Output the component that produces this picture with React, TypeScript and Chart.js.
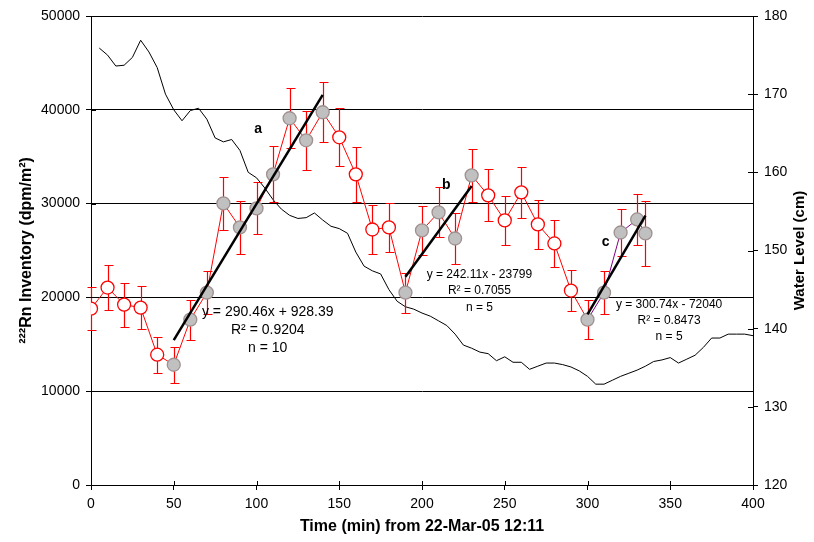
import React, { useEffect, useRef } from 'react';
import { Chart, registerables } from 'chart.js';

Chart.register(...registerables);

// ---------- data ----------
const rnTimes = [0, 10, 20, 30, 40, 50, 60, 70, 80, 90, 100, 110, 120, 130, 140, 150, 160, 170, 180, 190, 200, 210, 220, 230, 240, 250, 260, 270, 280, 290, 300, 310, 320, 330, 335];
const rnInventory = [18800, 21050, 19230, 18910, 13890, 12820, 17630, 20510, 30020, 27460, 29490, 33120, 39100, 36750, 39740, 37070, 33120, 27240, 27460, 20510, 27140, 29060, 26280, 33010, 30880, 28210, 31200, 27780, 25750, 20730, 17630, 20510, 26920, 28310, 26820];
const rnError = [2260, 2440, 2350, 2300, 1900, 1900, 2140, 2300, 2850, 2800, 2780, 3000, 3200, 3150, 3200, 3100, 2950, 2600, 2600, 2140, 2580, 2670, 2670, 2850, 2760, 2580, 2720, 2580, 2530, 2200, 2050, 2300, 2530, 2700, 3500];

// regression windows (points used in fits are drawn grey)
const fitStart = [50, 190, 300];
const fitEnd = [140, 230, 335];

// trend line end points
const trendAX = [50, 140];
const trendAY = [15451, 41593];
const trendBX = [190, 230];
const trendBY = [22202, 31886];
const trendCX = [300, 335];
const trendCY = [18182, 28708];

const waterTimes = [5, 10, 15, 20, 25, 30, 35, 40, 45, 50, 55, 60, 65, 70, 75, 80, 85, 90, 95, 100, 105, 110, 115, 120, 125, 130, 135, 140, 145, 150, 155, 160, 165, 170, 175, 180, 185, 190, 195, 200, 205, 210, 215, 220, 225, 230, 235, 240, 245, 250, 255, 260, 265, 270, 275, 280, 285, 290, 295, 300, 305, 310, 315, 320, 325, 330, 335, 340, 345, 350, 355, 360, 365, 370, 375, 380, 385, 390, 395, 400];
const waterLevel = [175.9, 175.0, 173.6, 173.7, 174.7, 176.9, 175.4, 173.4, 170.0, 168.0, 166.6, 167.9, 168.2, 166.8, 164.4, 163.9, 164.2, 162.8, 160.0, 159.3, 158.0, 156.5, 155.3, 154.5, 154.1, 154.2, 154.8, 153.9, 153.1, 152.8, 152.2, 149.8, 148.0, 147.4, 147.0, 145.0, 143.5, 142.8, 142.5, 142.0, 141.6, 141.0, 140.4, 139.3, 137.9, 137.5, 137.0, 136.8, 135.9, 136.4, 135.7, 135.7, 134.8, 135.2, 135.6, 135.6, 135.4, 135.1, 134.6, 133.9, 132.9, 132.9, 133.4, 133.9, 134.3, 134.7, 135.2, 135.8, 136.0, 136.3, 135.6, 136.1, 136.6, 137.6, 138.8, 138.8, 139.3, 139.3, 139.3, 139.1];

const xTickStep = 50;
const yTickStep = 10000;
const y2TickStep = 10;

// annotations (anchored in data coordinates)
const letterText = ['a', 'b', 'c'];
const letterX = [101, 214.6, 311];
const letterY = [37930, 31980, 25890];

const eqLines = [
  ['y = 290.46x + 928.39', 'R² = 0.9204', 'n = 10'],
  ['y = 242.11x - 23799', 'R² = 0.7055', 'n = 5'],
  ['y = 300.74x - 72040', 'R² = 0.8473', 'n = 5'],
];
const eqX = [106.8, 234.7, 349.3];
const eqY = [18380, 22440, 19230];

const FONT = '"Liberation Sans", Arial, sans-serif';
const eqFontSize = [14, 12, 12];
const eqLineGap = [18, 16.5, 16];

const inFit = (t: number) => fitStart.some((s, i) => t >= s && t <= fitEnd[i]);

const errorBarPlugin = {
  id: 'errorBars',
  beforeDatasetDraw(chart: any, args: any) {
    if (args.index !== 3) return;
    const { ctx } = chart;
    const x = chart.scales.x;
    const y = chart.scales.y;
    rnTimes.forEach((t, i) => {
      const px = Math.round(x.getPixelForValue(t)) + 0.5;
      const top = Math.round(y.getPixelForValue(rnInventory[i] + rnError[i])) + 0.5;
      const bot = Math.round(y.getPixelForValue(rnInventory[i] - rnError[i])) + 0.5;
      ctx.save();
      ctx.strokeStyle = 'rgb(255,0,0)';
      ctx.lineWidth = 1.2;
      ctx.setLineDash([]);
      ctx.beginPath();
      ctx.moveTo(px, top);
      ctx.lineTo(px, bot);
      ctx.moveTo(px - 4, top);
      ctx.lineTo(px + 5, top);
      ctx.moveTo(px - 4, bot);
      ctx.lineTo(px + 5, bot);
      ctx.stroke();
      ctx.restore();
    });
  },
};

// inner halves of the crossing tick marks
const innerTickPlugin = {
  id: 'innerTicks',
  afterDraw(chart: any) {
    const { ctx } = chart;
    const area = chart.chartArea;
    const { x, y, y2 } = chart.scales;
    ctx.save();
    ctx.strokeStyle = '#000';
    ctx.lineWidth = 1;
    ctx.beginPath();
    x.ticks.forEach((t: any) => {
      const px = Math.round(x.getPixelForValue(t.value)) + 0.5;
      ctx.moveTo(px, area.bottom);
      ctx.lineTo(px, area.bottom - 4);
    });
    y.ticks.forEach((t: any) => {
      const py = Math.round(y.getPixelForValue(t.value)) + 0.5;
      ctx.moveTo(area.left, py);
      ctx.lineTo(area.left + 5, py);
    });
    y2.ticks.forEach((t: any) => {
      const py = Math.round(y2.getPixelForValue(t.value)) + 0.5;
      ctx.moveTo(area.right, py);
      ctx.lineTo(area.right - 5, py);
    });
    ctx.stroke();
    ctx.restore();
  },
};

const annotationPlugin = {
  id: 'annotations',
  afterDatasetsDraw(chart: any) {
    const { ctx } = chart;
    const x = chart.scales.x;
    const y = chart.scales.y;
    ctx.save();
    ctx.fillStyle = '#000';
    ctx.textAlign = 'center';
    ctx.textBaseline = 'middle';
    ctx.font = `bold 14px ${FONT}`;
    letterText.forEach((txt, i) => {
      ctx.fillText(txt, x.getPixelForValue(letterX[i]), y.getPixelForValue(letterY[i]));
    });
    eqLines.forEach((lines, i) => {
      ctx.font = `${eqFontSize[i]}px ${FONT}`;
      const cx = x.getPixelForValue(eqX[i]);
      const cy = y.getPixelForValue(eqY[i]);
      lines.forEach((l, j) => ctx.fillText(l, cx, cy + j * eqLineGap[i]));
    });
    // right axis title (reads bottom to top)
    const area = chart.chartArea;
    ctx.font = `bold 15px ${FONT}`;
    ctx.translate(800, (area.top + area.bottom) / 2);
    ctx.rotate(-Math.PI / 2);
    ctx.fillText('Water Level (cm)', 0, 0);
    ctx.restore();
  },
};

export default function App() {
  const canvasRef = useRef<HTMLCanvasElement | null>(null);

  useEffect(() => {
    const canvas = canvasRef.current;
    if (!canvas) return;

    const rnData = rnTimes.map((t, i) => ({ x: t, y: rnInventory[i] }));
    const waterData = waterTimes.map((t, i) => ({ x: t, y: waterLevel[i] }));
    const trend = (xs: number[], ys: number[]) => xs.map((t, i) => ({ x: t, y: ys[i] }));

    const trendStyle = {
      type: 'line' as const,
      borderColor: '#000',
      borderWidth: 2.5,
      pointRadius: 0,
      fill: false,
      yAxisID: 'y',
    };

    const plain = (v: any) => String(v);

    const chart = new Chart(canvas, {
      type: 'line',
      data: {
        datasets: [
          { ...trendStyle, data: trend(trendAX, trendAY) },
          { ...trendStyle, data: trend(trendBX, trendBY) },
          { ...trendStyle, data: trend(trendCX, trendCY) },
          {
            data: rnData,
            yAxisID: 'y',
            borderColor: '#ff0000',
            borderWidth: 1,
            segment: {
              borderColor: (c: any) => (c.p0.parsed.x >= fitStart[2] ? '#800080' : '#ff0000'),
            },
            pointRadius: 6.5,
            pointBorderWidth: 1.3,
            pointBackgroundColor: rnTimes.map((t) => (inFit(t) ? '#c0c0c0' : '#ffffff')),
            pointBorderColor: rnTimes.map((t) => (inFit(t) ? '#a09090' : '#ff0000')),
            fill: false,
          },
          {
            data: waterData,
            yAxisID: 'y2',
            borderColor: '#000',
            borderWidth: 1,
            pointRadius: 0,
            fill: false,
          },
        ],
      },
      options: {
        responsive: false,
        animation: false,
        layout: { padding: { top: 16, left: 0, right: 0, bottom: 0 } },
        plugins: { legend: { display: false }, tooltip: { enabled: false } },
        scales: {
          x: {
            type: 'linear',
            min: 0,
            max: 400,
            ticks: { stepSize: xTickStep, color: '#000', font: { family: FONT, size: 14 }, padding: 6, maxRotation: 0, callback: plain },
            grid: { drawOnChartArea: false, drawTicks: true, tickLength: 5, color: '#000' },
            border: { display: true, color: '#000', width: 1 },
            title: {
              display: true,
              text: 'Time (min) from 22-Mar-05 12:11',
              color: '#000',
              font: { family: FONT, size: 16, weight: 'bold' },
              padding: { top: 0, bottom: 5.5 },
            },
            afterFit: (s: any) => { s.height = 57; },
          },
          y: {
            type: 'linear',
            position: 'left',
            min: 0,
            max: 50000,
            ticks: { stepSize: yTickStep, color: '#000', font: { family: FONT, size: 14 }, padding: 6, callback: plain },
            grid: { drawOnChartArea: true, drawTicks: true, tickLength: 5, color: '#000' },
            border: { display: true, color: '#000', width: 1 },
            title: {
              display: true,
              text: '²²²Rn Inventory (dpm/m²)',
              color: '#000',
              font: { family: FONT, size: 16, weight: 'bold' },
              padding: { top: 17, bottom: 0 },
            },
            afterFit: (s: any) => { s.width = 91; },
          },
          y2: {
            type: 'linear',
            position: 'right',
            min: 120,
            max: 180,
            ticks: { stepSize: y2TickStep, color: '#000', font: { family: FONT, size: 14 }, padding: 6, callback: plain },
            grid: { drawOnChartArea: false, drawTicks: true, tickLength: 5, color: '#000' },
            border: { display: true, color: '#000', width: 1 },
            afterFit: (s: any) => { s.width = 61; },
          },
        },
      },
      plugins: [errorBarPlugin, annotationPlugin, innerTickPlugin],
    });

    return () => chart.destroy();
  }, []);

  return (
    <div style={{ position: 'absolute', left: 0, top: 0, width: 814, height: 542, background: '#fff' }}>
      <canvas ref={canvasRef} width={814} height={542} />
    </div>
  );
}
